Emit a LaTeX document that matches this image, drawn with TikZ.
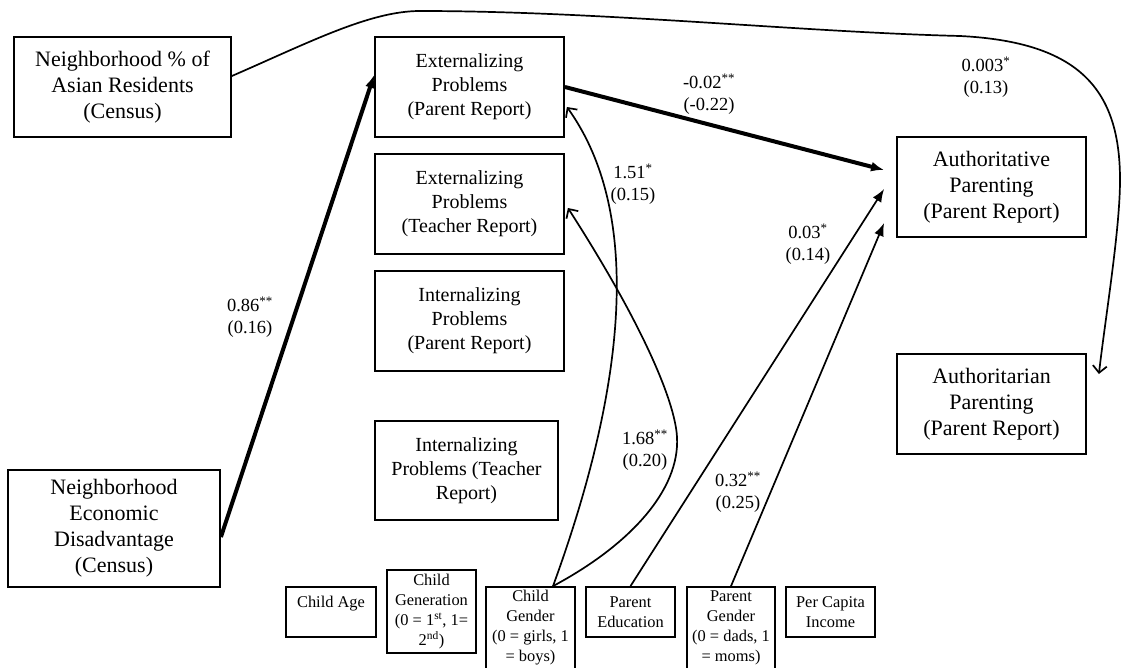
\documentclass[tikz,border=0pt]{standalone}
\usepackage{fontspec}
\setmainfont{Liberation Serif}
\usetikzlibrary{arrows.meta}
\begin{document}
\begin{tikzpicture}[x=1pt,y=-1pt,
  box/.style={draw, line width=1.8pt, align=center, inner sep=0pt},
  bigA/.style={box, font=\fontsize{22}{26}\selectfont},
  bigB/.style={box, font=\fontsize{20}{24}\selectfont},
  smallbox/.style={box, font=\fontsize{16.4}{20}\selectfont},
  lab/.style={align=center, font=\fontsize{18.5}{22}\selectfont, inner sep=0pt},
  thinline/.style={line width=1.7pt},
  heavy/.style={line width=4pt},
  filled/.style={-{Latex[length=13pt,width=10pt]}},
  openv/.style={-{Straight Barb[length=7pt,width=14pt]}},
]
\useasboundingbox (0,0) rectangle (1121,668);

% boxes
\node[bigA, minimum width=217pt, minimum height=100pt] (asian) at (122.5,87) {Neighborhood \% of\\Asian Residents\\(Census)};
\node[bigA, minimum width=212pt, minimum height=117pt] (econ) at (114,528.5) {Neighborhood\\Economic\\Disadvantage\\(Census)};
\node[bigB, minimum width=189pt, minimum height=100pt] (extP) at (469.5,87) {Externalizing\\Problems\\(Parent Report)};
\node[bigB, minimum width=189pt, minimum height=100pt] (extT) at (469.5,204) {Externalizing\\Problems\\(Teacher Report)};
\node[bigB, minimum width=189pt, minimum height=100pt] (intP) at (469.5,321) {Internalizing\\Problems\\(Parent Report)};
\node[bigB, minimum width=183pt, minimum height=99pt] (intT) at (466.5,470.5) {Internalizing\\Problems (Teacher\\Report)};
\node[bigA, minimum width=189pt, minimum height=100pt] (auth) at (991.5,187) {Authoritative\\Parenting\\(Parent Report)};
\node[bigA, minimum width=189pt, minimum height=100pt] (authn) at (991.5,404) {Authoritarian\\Parenting\\(Parent Report)};

\node[smallbox, minimum width=90pt, minimum height=50pt] (age) at (331,612) {Child Age\\\mbox{}};
\node[smallbox, minimum width=89pt, minimum height=83pt] (gen) at (431.5,611.5) {Child\\Generation\\(0 = 1\textsuperscript{st}, 1=\\2\textsuperscript{nd})};
\node[smallbox, minimum width=89pt, minimum height=82pt] (gender) at (530.5,628) {Child\\Gender\\(0 = girls, 1\\= boys)};
\node[smallbox, minimum width=89pt, minimum height=50pt] (pedu) at (630.5,612) {Parent\\Education};
\node[smallbox, minimum width=88pt, minimum height=82pt] (pgender) at (731,628) {Parent\\Gender\\(0 = dads, 1\\= moms)};
\node[smallbox, minimum width=89pt, minimum height=50pt] (income) at (830.5,612) {Per Capita\\Income};

% connectors
\draw[heavy, filled] ([yshift=-8.5pt]econ.east) -- ([yshift=12pt]extP.west);
\draw[heavy, filled] (extP.east) -- ([xshift=-12pt,yshift=17pt]auth.west);
\draw[thinline, filled] (pedu.north) -- ([xshift=-12pt,yshift=-2pt]auth.west);
\draw[thinline, filled] (pgender.north) -- ([xshift=-12pt,yshift=-36pt]auth.west);
\draw[thinline, openv] ([xshift=22.5pt]gender.north) .. controls (610,430) and (655,230) .. ([xshift=2pt,yshift=-20pt]extP.east);
\draw[thinline, openv] ([xshift=22.5pt]gender.north) .. controls (630,545) and (680,490) .. (677,437) .. controls (675,400) and (640,320) .. ([xshift=3pt,yshift=-4pt]extT.east);
\draw[thinline, openv] ([yshift=11pt]asian.east) .. controls (310,42) and (370,11) .. (420,11) .. controls (600,11) and (800,32) .. (960,36) .. controls (1080,42) and (1120,90) .. (1120,180) .. controls (1120,230) and (1105,320) .. ([xshift=12pt,yshift=30pt]authn.east);

% labels
\node[lab] (l086) at (250,317.5) {0.86\textsuperscript{**}\\(0.16)};
\node[lab] (l002) at (709,94.5) {-0.02\textsuperscript{**}\\(-0.22)};
\node[lab] (l0003) at (986,77.5) {0.003\textsuperscript{*}\\(0.13)};
\node[lab] (l151) at (633,184) {1.51\textsuperscript{*}\\(0.15)};
\node[lab] (l003) at (808,244.5) {0.03\textsuperscript{*}\\(0.14)};
\node[lab] (l168) at (645,450) {1.68\textsuperscript{**}\\(0.20)};
\node[lab] (l032) at (738,492) {0.32\textsuperscript{**}\\(0.25)};
\end{tikzpicture}
\end{document}
